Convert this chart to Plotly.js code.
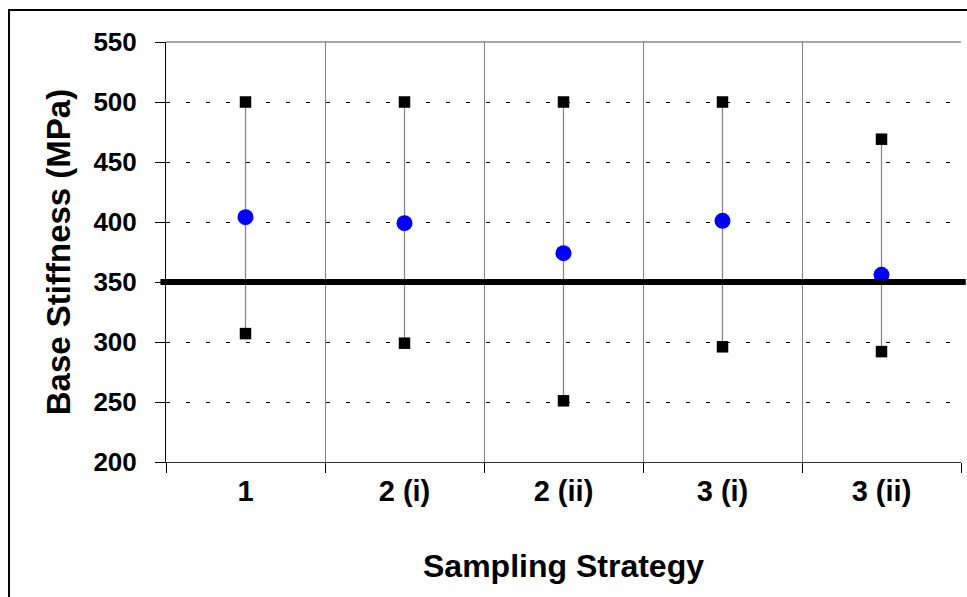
<!DOCTYPE html>
<html>
<head>
<meta charset="utf-8">
<script src="https://cdn.plot.ly/plotly-3.0.1.min.js"></script>
<style>
  html, body { margin: 0; padding: 0; background: #fff; }
  #wrap { position: relative; width: 967px; height: 597px; overflow: hidden; }
  #chart { width: 967px; height: 597px; }
  #frame { position: absolute; left: 8px; top: 9px; width: 1000px; height: 1000px;
           border-left: 2px solid #000; border-top: 2px solid #000; pointer-events: none; }
</style>
</head>
<body>
<div id="wrap">
  <div id="chart"></div>
  <div id="frame"></div>
</div>
<script>
// ---- data ----
const categories = ["1", "2 (i)", "2 (ii)", "3 (i)", "3 (ii)"];
const maxValues  = [500, 500, 500, 500, 469];
const minValues  = [307, 299, 251, 296, 292];
const meanValues = [404, 399, 374, 401, 356];
const targetValue = 350;
const yTicks = [200, 250, 300, 350, 400, 450, 500, 550];

// build range lines (min-max) from the arrays
const rangeX = [], rangeY = [];
categories.forEach((c, i) => {
  rangeX.push(c, c, null);
  rangeY.push(minValues[i], maxValues[i], null);
});

const traces = [
  {
    x: rangeX, y: rangeY, type: "scatter", mode: "lines",
    line: { color: "#808080", width: 1.2 },
    hoverinfo: "skip", showlegend: false
  },
  {
    x: categories, y: maxValues, type: "scatter", mode: "markers",
    marker: { symbol: "square", size: 11.5, color: "#000" },
    showlegend: false, cliponaxis: false
  },
  {
    x: categories, y: minValues, type: "scatter", mode: "markers",
    marker: { symbol: "square", size: 11.5, color: "#000" },
    showlegend: false, cliponaxis: false
  },
  {
    x: categories, y: meanValues, type: "scatter", mode: "markers",
    marker: { symbol: "circle", size: 16, color: "#0000FF" },
    showlegend: false, cliponaxis: false
  }
];

const font = "'Liberation Sans', Arial, sans-serif";

const layout = {
  width: 967, height: 597,
  margin: { l: 166, r: 6, t: 42, b: 135 },
  paper_bgcolor: "#fff", plot_bgcolor: "#fff",
  showlegend: false,
  font: { family: font, color: "#000" },
  xaxis: {
    type: "category",
    categoryorder: "array", categoryarray: categories,
    range: [-0.5, categories.length - 0.5],
    tickson: "boundaries",
    ticks: "outside", ticklen: 10, tickcolor: "#000", tickwidth: 1,
    showgrid: true, gridcolor: "#808080", gridwidth: 1,
    showline: true, linecolor: "#333", linewidth: 1,
    zeroline: false,
    tickfont: { family: font, size: 29, color: "#000", weight: "bold" },
    ticklabelstandoff: 3,
    title: { text: "Sampling Strategy", font: { family: font, size: 32, color: "#000", weight: "bold" }, standoff: 48 },
    fixedrange: true
  },
  yaxis: {
    range: [200, 550],
    tickvals: yTicks, ticktext: yTicks.map(String),
    ticks: "outside", ticklen: 10, tickcolor: "#000", tickwidth: 1,
    showgrid: true, gridcolor: "#000", gridwidth: 1, griddash: "4px,16px",
    showline: true, linecolor: "#000", linewidth: 1,
    zeroline: false,
    tickfont: { family: font, size: 26, color: "#000", weight: "bold" },
    ticklabelstandoff: 13,
    title: { text: "Base Stiffness (MPa)", font: { family: font, size: 33, color: "#000", weight: "bold" }, standoff: 12 },
    fixedrange: true
  },
  shapes: [
    { type: "line", xref: "paper", yref: "paper", x0: 0, x1: 1, y0: 1, y1: 1,
      line: { color: "#888", width: 1.5 }, layer: "above" },
    { type: "line", xref: "paper", yref: "y", x0: -0.007, x1: 1.006, y0: targetValue, y1: targetValue,
      line: { color: "#000", width: 6 }, layer: "above" }
  ]
};

Plotly.newPlot("chart", traces, layout, { displayModeBar: false, staticPlot: true });
</script>
</body>
</html>
